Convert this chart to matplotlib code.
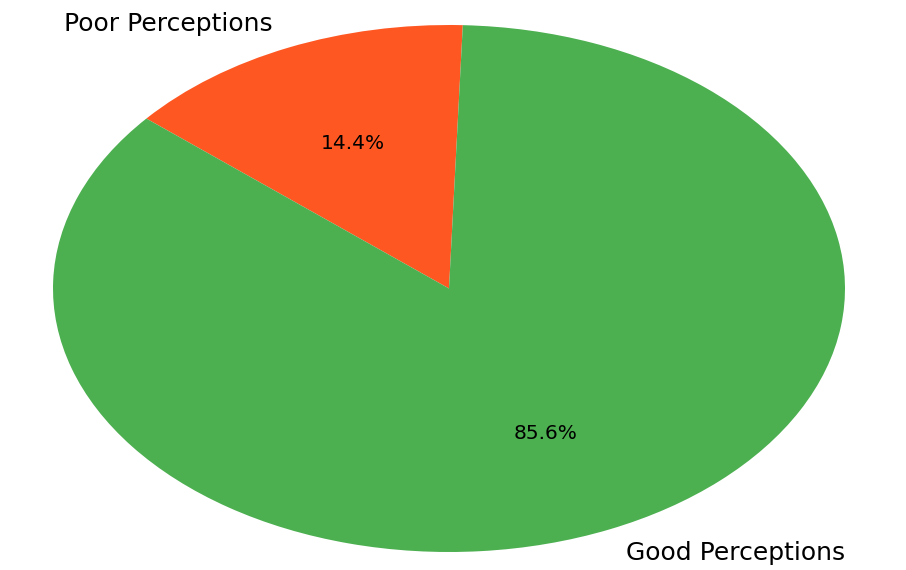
import matplotlib
matplotlib.use('Agg')
import matplotlib.pyplot as plt

# data
labels = ['Poor Perceptions', 'Good Perceptions']
shares = [14.4, 85.6]
colors = ['#FF5722', '#4CAF50']

fig = plt.figure(figsize=(9.06, 5.70), dpi=100)
ax = fig.add_axes([53 / 906, 18 / 570, 792 / 906, 527 / 570])

wedges, texts, autotexts = ax.pie(shares, labels=labels, colors=colors,
                                  autopct='%1.1f%%', startangle=88,
                                  textprops={'fontsize': 18})
for t in autotexts:
    t.set_fontsize(14.5)

# the reference pie is stretched sideways, so no equal aspect
ax.set_aspect('auto')
ax.set_xlim(-1, 1)
ax.set_ylim(-1, 1)
ax.axis('off')

fig.savefig('out.png', dpi=100)
